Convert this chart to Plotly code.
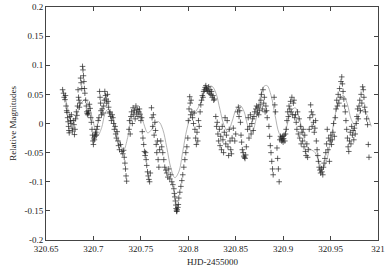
import plotly.graph_objects as go

# Observed photometry (HJD-2455000, relative magnitude)
obs_x = [
320.6675,320.6685,320.6692,320.6700,320.6705,320.6712,320.6718,320.6722,320.6728,320.6733,320.6738,320.6742,320.6745,320.6752,320.6758,
320.6762,320.6768,320.6775,320.6780,320.6788,320.6795,320.6800,320.6806,320.6812,320.6820,320.6826,
320.6832,320.6838,320.6843,320.6848,320.6852,320.6858,320.6865,320.6870,320.6877,320.6885,320.6890,320.6895,320.6900,320.6905,320.6910,320.6918,320.6925,320.6930,320.6935,320.6940,320.6945,320.6950,320.6958,320.6965,320.6972,320.6978,
320.6985,320.6990,320.6995,320.7000,320.7005,320.7010,320.7015,320.7020,320.7025,320.7030,320.7035,320.7042,320.7050,320.7058,
320.7065,320.7070,320.7075,320.7080,320.7085,320.7092,320.7100,320.7108,320.7115,320.7120,320.7128,320.7135,320.7140,320.7148,320.7155,320.7160,320.7168,320.7175,320.7182,320.7190,320.7198,
320.7205,320.7212,320.7220,320.7228,320.7235,320.7242,320.7250,320.7258,320.7265,320.7275,320.7285,320.7300,320.7310,320.7318,320.7325,320.7332,320.7338,320.7344,320.7350,
320.7375,320.7380,320.7388,320.7395,320.7402,320.7410,320.7418,320.7425,320.7432,320.7440,320.7448,320.7455,320.7462,320.7470,320.7478,320.7485,320.7492,320.7500,320.7508,
320.7515,320.7522,320.7530,320.7538,320.7545,320.7550,320.7556,320.7562,320.7570,320.7578,320.7585,320.7592,320.7600,
320.7612,320.7618,320.7625,320.7632,320.7640,320.7648,320.7655,320.7662,320.7668,320.7675,320.7682,320.7690,320.7698,
320.7710,320.7720,320.7731,320.7742,320.7752,320.7763,320.7773,320.7784,320.7794,320.7805,320.7815,320.7826,320.7837,
320.7848,320.7853,320.7858,320.7864,320.7869,320.7872,320.7876,320.7879,320.7883,320.7890,320.7895,320.7900,320.7911,320.7922,320.7932,320.7942,320.7953,320.7964,320.7974,320.7985,320.7995,
320.8000,320.8008,320.8015,320.8020,320.8025,320.8030,320.8038,320.8045,320.8055,320.8062,320.8070,320.8078,320.8085,320.8092,320.8100,320.8108,320.8115,
320.8125,320.8132,320.8140,320.8148,320.8155,320.8162,320.8170,320.8178,320.8185,320.8192,320.8200,320.8208,320.8215,320.8222,320.8230,320.8238,320.8245,320.8252,320.8260,320.8268,320.8275,
320.8290,320.8298,320.8305,320.8312,320.8320,320.8328,320.8335,320.8342,320.8350,320.8358,320.8365,320.8372,320.8380,320.8388,320.8395,320.8402,320.8410,320.8418,320.8425,320.8432,320.8440,320.8448,320.8455,320.8462,320.8475,320.8490,320.8500,
320.8520,320.8528,320.8535,320.8542,320.8550,320.8556,320.8562,320.8570,320.8578,320.8585,320.8592,320.8598,320.8605,320.8612,
320.8625,320.8632,320.8640,320.8648,320.8655,320.8662,320.8670,320.8678,320.8685,320.8692,320.8700,
320.8712,320.8720,320.8728,320.8735,320.8742,320.8750,320.8758,320.8765,320.8772,320.8780,320.8788,320.8795,320.8802,320.8810,320.8818,320.8825,320.8832,
320.8850,320.8858,320.8865,320.8872,320.8880,320.8888,320.8895,320.8905,320.8912,320.8920,320.8935,320.8942,320.8950,320.8958,320.8965,320.8972,
320.8980,320.8985,320.8990,320.8995,320.9000,320.9005,320.9010,320.9018,320.9025,320.9032,
320.9040,320.9048,320.9055,320.9062,320.9070,320.9078,320.9085,320.9092,320.9100,320.9108,320.9115,320.9122,
320.9130,320.9138,320.9145,320.9152,320.9160,320.9168,320.9175,320.9182,320.9190,320.9198,320.9205,320.9212,320.9220,320.9228,320.9235,320.9242,320.9250,320.9258,320.9265,
320.9275,320.9282,320.9290,320.9298,320.9305,320.9312,320.9320,320.9328,320.9335,320.9342,
320.9350,320.9358,320.9365,320.9372,320.9380,320.9388,320.9395,320.9402,320.9410,320.9418,320.9425,320.9432,320.9440,
320.9450,320.9458,320.9465,320.9472,320.9480,320.9488,320.9495,320.9502,320.9510,320.9518,320.9525,320.9532,320.9540,
320.9550,320.9558,320.9565,320.9572,320.9580,320.9588,320.9595,320.9602,320.9610,320.9618,320.9625,320.9632,320.9640,320.9648,320.9655,
320.9662,320.9670,320.9678,320.9685,320.9692,320.9700,320.9708,320.9715,320.9722,320.9730,320.9738,320.9745,320.9752,320.9760,
320.9770,320.9778,320.9785,320.9792,320.9800,320.9808,320.9815,320.9822,320.9830,320.9838,320.9845,320.9852,320.9860,320.9868,
320.9880,320.9890,320.9898,320.9905,
]
obs_y = [
0.058,0.052,0.045,0.041,0.048,0.030,0.022,0.019,0.010,0.003,-0.005,-0.012,-0.016,0.012,0.005,
0.000,0.015,-0.008,-0.013,0.005,-0.002,-0.019,-0.010,0.008,0.020,0.014,
0.030,0.058,0.045,0.040,0.028,0.035,0.078,0.070,0.060,0.098,0.092,0.082,0.072,0.060,0.052,0.040,0.030,0.020,0.017,0.015,0.022,0.018,0.033,0.026,0.010,0.002,
-0.010,-0.020,-0.030,-0.036,-0.025,-0.028,-0.022,-0.018,-0.015,-0.020,-0.010,-0.005,0.005,0.010,
0.055,0.045,0.035,0.022,0.015,0.025,0.018,0.030,0.040,0.055,0.048,0.042,0.035,0.050,0.038,0.028,0.018,0.020,0.012,0.005,0.015,
0.010,0.000,-0.010,-0.005,-0.018,-0.025,-0.014,-0.030,-0.038,-0.045,-0.036,-0.048,-0.052,-0.046,-0.058,-0.068,-0.078,-0.090,-0.099,
-0.010,0.005,-0.018,0.012,0.020,0.000,0.027,0.015,0.022,0.008,0.030,0.018,0.024,0.012,0.020,0.025,0.016,0.005,0.010,
-0.014,-0.025,-0.036,-0.048,-0.055,-0.050,-0.062,-0.072,-0.083,-0.090,-0.096,-0.100,-0.085,
0.027,0.010,-0.005,0.015,-0.020,0.002,-0.012,-0.036,-0.050,-0.030,-0.062,-0.075,-0.045,
-0.030,-0.040,-0.050,-0.062,-0.075,-0.080,-0.085,-0.092,-0.078,-0.095,-0.088,-0.100,-0.105,
-0.112,-0.120,-0.126,-0.133,-0.140,-0.146,-0.150,-0.151,-0.148,-0.144,-0.139,-0.128,-0.118,-0.108,-0.098,-0.088,-0.075,-0.062,-0.050,-0.040,-0.025,
0.005,0.025,0.046,0.035,0.015,0.040,0.020,0.010,0.000,0.018,-0.010,-0.025,-0.036,-0.015,-0.030,0.005,-0.005,
0.020,0.032,0.040,0.048,0.045,0.055,0.058,0.062,0.065,0.060,0.057,0.055,0.063,0.052,0.058,0.050,0.055,0.045,0.048,0.040,0.042,
0.012,-0.005,0.002,-0.018,-0.030,-0.010,-0.038,-0.022,-0.045,-0.005,-0.028,-0.050,-0.015,0.010,-0.035,-0.020,0.005,-0.040,-0.055,-0.010,-0.030,-0.045,-0.052,-0.025,-0.008,-0.030,-0.018,
0.020,0.028,0.012,0.022,0.002,-0.020,-0.032,-0.045,-0.050,-0.056,-0.058,-0.060,-0.054,-0.040,
-0.010,0.010,-0.025,-0.005,0.015,-0.018,0.000,0.008,-0.012,0.012,0.020,
0.025,0.030,0.018,0.028,0.015,0.022,0.032,0.040,0.050,0.025,0.058,0.035,0.045,0.020,0.030,0.022,0.010,
-0.005,-0.022,-0.038,-0.050,-0.065,-0.078,-0.088,0.045,0.032,0.020,-0.042,-0.060,-0.078,-0.100,-0.028,-0.022,
-0.025,-0.030,-0.028,-0.022,-0.032,-0.026,-0.020,-0.030,-0.018,-0.010,
0.005,0.020,0.012,0.030,0.025,0.038,0.020,0.045,0.015,0.035,0.040,0.010,
0.015,0.002,-0.010,0.020,-0.018,0.008,-0.025,-0.005,-0.035,-0.015,-0.030,-0.010,-0.040,-0.020,-0.048,-0.055,-0.035,-0.058,-0.045,
-0.010,0.010,0.032,0.020,-0.005,0.015,0.002,-0.015,-0.008,0.005,
-0.030,-0.045,-0.055,-0.065,-0.075,-0.080,-0.085,-0.078,-0.083,-0.088,-0.075,-0.068,-0.060,
-0.050,-0.035,-0.010,-0.045,-0.025,-0.065,-0.030,-0.020,-0.036,-0.028,-0.015,0.000,-0.022,
0.010,0.025,0.040,0.030,0.050,0.035,0.060,0.045,0.072,0.080,0.068,0.055,0.042,0.030,0.020,
0.005,-0.010,-0.025,-0.040,-0.048,-0.030,-0.015,-0.035,-0.005,-0.020,-0.012,-0.028,-0.008,-0.018,
0.000,0.012,0.025,0.008,0.030,0.040,0.022,0.050,0.035,0.063,0.058,0.045,0.028,0.020,
0.008,-0.002,-0.036,-0.058,
]

# Fitted model curve
fit_x = [320.6696,320.6738,320.6780,320.6822,320.6865,320.6918,320.6960,320.7002,320.7044,320.7087,
320.7118,320.7150,320.7192,320.7235,320.7277,320.7319,320.7361,320.7404,320.7446,320.7488,
320.7530,320.7573,320.7615,320.7657,320.7689,320.7731,320.7773,320.7816,320.7858,320.7900,
320.7942,320.7985,320.8027,320.8080,320.8123,320.8165,320.8207,320.8249,320.8292,320.8334,
320.8376,320.8418,320.8461,320.8503,320.8545,320.8587,320.8630,320.8672,320.8714,320.8757,
320.8799,320.8831,320.8873,320.8915,320.8958,320.9000,320.9042,320.9084,320.9127,320.9169,
320.9211,320.9253,320.9296,320.9338,320.9380,320.9422,320.9465,320.9507,320.9549,320.9591,
320.9634,320.9676,320.9718,320.9760,320.9803,320.9845,320.9887,320.9929]
fit_y = [0.050,0.021,0.000,0.014,0.034,0.041,0.027,0.000,-0.021,-0.007,
0.015,0.024,0.017,-0.007,-0.033,-0.045,-0.024,0.012,0.027,0.024,
0.000,-0.016,-0.010,0.002,0.003,-0.010,-0.041,-0.076,-0.093,-0.083,
-0.048,-0.010,0.012,0.021,0.033,0.052,0.062,0.064,0.052,0.024,
-0.003,-0.014,0.003,0.024,0.031,0.021,-0.005,-0.015,0.007,0.045,
0.064,0.065,0.048,0.014,-0.017,-0.026,-0.003,0.021,0.027,0.010,
-0.019,-0.040,-0.045,-0.050,-0.067,-0.076,-0.059,-0.024,0.015,0.041,
0.048,0.034,0.007,-0.003,0.017,0.024,0.014,-0.005]

x_ticks = [320.65, 320.7, 320.75, 320.8, 320.85, 320.9, 320.95, 321.0]
x_labels = ["320.65", "320.7", "320.75", "320.8", "320.85", "320.9", "320.95", "321"]
y_ticks = [0.2, 0.15, 0.1, 0.05, 0, -0.05, -0.1, -0.15, -0.2]
y_labels = ["0.2", "0.15", "0.1", "0.05", "0", "-0.05", "-0.1", "-0.15", "-0.2"]

font_family = "Liberation Serif"
axis_col = "#444444"
text_col = "#222222"

fig = go.Figure()
fig.add_trace(go.Scatter(x=fit_x, y=fit_y, mode="lines",
                         line=dict(color="#a0a0a0", width=0.8, shape="spline", smoothing=1.0), hoverinfo="skip"))
fig.add_trace(go.Scatter(x=obs_x, y=obs_y, mode="markers",
                         marker=dict(symbol="cross-thin", size=4, line=dict(color="rgba(30,30,30,0.75)", width=0.9))))

axis_common = dict(showgrid=False, zeroline=False, showline=True, linecolor=axis_col, linewidth=1,
                   mirror="ticks", ticks="inside", ticklen=4, tickcolor=axis_col, tickwidth=1,
                   automargin=False,
                   tickfont=dict(family=font_family, size=9, color=text_col))
fig.update_xaxes(range=[320.65, 321.0], tickvals=x_ticks, ticktext=x_labels, **axis_common)
fig.update_yaxes(range=[-0.2, 0.2], tickvals=y_ticks, ticktext=y_labels, **axis_common)
fig.update_layout(width=388, height=273, margin=dict(l=46, r=10, t=7, b=33),
                  plot_bgcolor="white", paper_bgcolor="white", showlegend=False,
                  annotations=[
                      dict(text="HJD-2455000", xref="paper", yref="paper", x=0.503, y=-0.094,
                           xanchor="center", yanchor="middle", showarrow=False,
                           font=dict(family=font_family, size=9, color=text_col)),
                      dict(text="Relative Magnitudes", xref="paper", yref="paper", x=-0.102, y=0.5,
                           xanchor="center", yanchor="middle", showarrow=False, textangle=-90,
                           font=dict(family=font_family, size=9, color=text_col)),
                  ])
fig.write_html("out.html", config={"displayModeBar": False},
               post_script="document.body.style.margin='0';document.body.style.padding='0';")
